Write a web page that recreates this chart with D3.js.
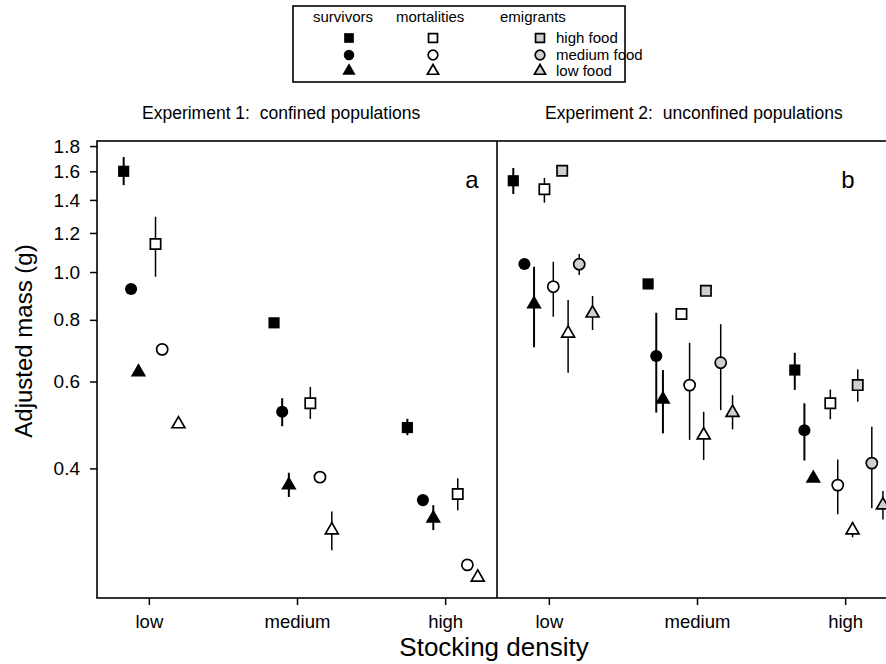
<!DOCTYPE html>
<html>
<head>
<meta charset="utf-8">
<script src="https://cdn.jsdelivr.net/npm/d3@7"></script>
<style>
  body { margin: 0; background: #fff; }
  svg { font-family: "Liberation Sans", Arial, sans-serif; }
  svg text { white-space: pre; }
</style>
</head>
<body>
<div id="myChart"></div>
<script>
// stocking density categories and y tick values
var densities = ["low", "medium", "high"];
var yTicks = [0.4, 0.6, 0.8, 1.0, 1.2, 1.4, 1.6, 1.8];
var groups = ["survivors", "mortalities", "emigrants"];
var foods = ["high", "medium", "low"];

// [density index, offset within group, group, food, mean, upper, lower]
var exp1 = [
  [0, -0.17, "survivors", "high", 1.60, 1.71, 1.50],
  [0, -0.12, "survivors", "medium", 0.924, null, null],
  [0, -0.07, "survivors", "low", 0.627, null, null],
  [0, 0.045, "mortalities", "high", 1.14, 1.294, 0.978],
  [0, 0.09, "mortalities", "medium", 0.697, 0.712, 0.683],
  [0, 0.20, "mortalities", "low", 0.492, null, null],
  [1, -0.155, "survivors", "high", 0.789, 0.807, 0.774],
  [1, -0.10, "survivors", "medium", 0.521, 0.555, 0.487],
  [1, -0.055, "survivors", "low", 0.370, 0.392, 0.350],
  [1, 0.09, "mortalities", "high", 0.542, 0.585, 0.504],
  [1, 0.155, "mortalities", "medium", 0.384, null, null],
  [1, 0.235, "mortalities", "low", 0.300, 0.327, 0.273],
  [2, -0.255, "survivors", "high", 0.484, 0.504, 0.467],
  [2, -0.15, "survivors", "medium", 0.345, 0.352, 0.338],
  [2, -0.08, "survivors", "low", 0.317, 0.337, 0.300],
  [2, 0.085, "mortalities", "high", 0.355, 0.382, 0.329],
  [2, 0.15, "mortalities", "medium", 0.255, null, null],
  [2, 0.22, "mortalities", "low", 0.2406, null, null]
];

var exp2 = [
  [0, -0.24, "survivors", "high", 1.531, 1.625, 1.439],
  [0, -0.165, "survivors", "medium", 1.038, null, null],
  [0, -0.10, "survivors", "low", 0.861, 1.025, 0.704],
  [0, -0.03, "mortalities", "high", 1.471, 1.551, 1.382],
  [0, 0.03, "mortalities", "medium", 0.934, 1.049, 0.812],
  [0, 0.13, "mortalities", "low", 0.751, 0.878, 0.625],
  [0, 0.09, "emigrants", "high", 1.604, null, null],
  [0, 0.205, "emigrants", "medium", 1.037, 1.088, 0.986],
  [0, 0.295, "emigrants", "low", 0.825, 0.894, 0.763],
  [1, -0.33, "survivors", "high", 0.946, null, null],
  [1, -0.275, "survivors", "medium", 0.676, 0.827, 0.519],
  [1, -0.23, "survivors", "low", 0.552, 0.633, 0.471],
  [1, -0.105, "mortalities", "high", 0.822, null, null],
  [1, -0.05, "mortalities", "medium", 0.590, 0.719, 0.457],
  [1, 0.045, "mortalities", "low", 0.467, 0.521, 0.416],
  [1, 0.06, "emigrants", "high", 0.916, null, null],
  [1, 0.16, "emigrants", "medium", 0.655, 0.784, 0.525],
  [1, 0.24, "emigrants", "low", 0.519, 0.563, 0.480],
  [2, -0.34, "survivors", "high", 0.633, 0.686, 0.577],
  [2, -0.275, "survivors", "medium", 0.478, 0.542, 0.415],
  [2, -0.215, "survivors", "low", 0.382, null, null],
  [2, -0.10, "mortalities", "high", 0.542, 0.578, 0.503],
  [2, -0.05, "mortalities", "medium", 0.370, 0.417, 0.323],
  [2, 0.05, "mortalities", "low", 0.300, 0.311, 0.290],
  [2, 0.085, "emigrants", "high", 0.590, 0.635, 0.546],
  [2, 0.18, "emigrants", "medium", 0.410, 0.486, 0.332],
  [2, 0.255, "emigrants", "low", 0.337, 0.360, 0.315]
];

var W = 886, H = 664;
var plotTop = 141, plotBottom = 598, plotLeft = 97, plotMid = 497;

var svg = d3.select("#myChart")
    .append("svg")
    .attr("width", W).attr("height", H);

var y = d3.scaleLog().domain([0.2185, 1.843]).range([plotBottom, plotTop]);

var fillFor = { survivors: "#000", mortalities: "#fff", emigrants: "#cfcfcf" };
var shapeFor = { high: d3.symbolSquare, medium: d3.symbolCircle, low: d3.symbolTriangle };
var sizeFor = { high: 125, medium: 115, low: 85 };

function marker(sel, d, scale) {
  var k = scale || 1;
  var filled = d.group == "survivors";
  var s = sizeFor[d.food] * k;
  if (d.food == "low" && filled) s *= 1.2;
  if (!filled) s *= 0.85;
  sel.append("path")
      .attr("d", d3.symbol().type(shapeFor[d.food]).size(s)())
      .attr("fill", fillFor[d.group])
      .attr("stroke", "#000")
      .attr("stroke-width", filled ? 0 : 1.7);
}

function panel(rows, x0, x1, title, titleX, letter, letterX) {
  var x = d3.scaleLinear().domain([-0.35, 2.35]).range([x0, x1]);
  var g = svg.append("g");

  var pts = rows.map(function(r) {
    return { x: r[0] + r[1], group: r[2], food: r[3], m: r[4], hi: r[5], lo: r[6] };
  });

  // error bars first, markers on top
  g.selectAll("line.err")
      .data(pts.filter(function(d) { return d.hi != null; }))
      .enter().append("line")
      .attr("x1", function(d) { return x(d.x); })
      .attr("x2", function(d) { return x(d.x); })
      .attr("y1", function(d) { return y(d.hi); })
      .attr("y2", function(d) { return y(d.lo); })
      .attr("stroke", "#000")
      .attr("stroke-width", function(d) { return d.group == "survivors" ? 2 : 1.5; });

  g.selectAll("g.pt")
      .data(pts)
      .enter().append("g")
      .attr("transform", function(d) { return "translate(" + x(d.x) + "," + y(d.m) + ")"; })
      .each(function(d) { marker(d3.select(this), d); });

  var ax = svg.append("g")
      .attr("transform", "translate(0," + plotBottom + ")")
      .call(d3.axisBottom(x).tickValues([0, 1, 2]).tickSize(7).tickPadding(10)
        .tickFormat(function(i) { return densities[i]; }));
  ax.select(".domain").remove();
  ax.selectAll("line").attr("stroke-width", 1.5);
  ax.selectAll("text").attr("font-size", 18.5).attr("font-family", "Liberation Sans, Arial, sans-serif").attr("fill", "#000");

  svg.append("text")
      .attr("x", titleX).attr("y", 119)
      .attr("font-size", 17.5)
      .text(title);

  svg.append("text")
      .attr("x", letterX).attr("y", 188)
      .attr("text-anchor", "middle")
      .attr("font-size", 24)
      .text(letter);
}

// frame
svg.append("rect")
    .attr("x", plotLeft).attr("y", plotTop)
    .attr("width", W + 20 - plotLeft).attr("height", plotBottom - plotTop)
    .attr("fill", "none").attr("stroke", "#000").attr("stroke-width", 1.6);
svg.append("line")
    .attr("x1", plotMid).attr("x2", plotMid).attr("y1", plotTop).attr("y2", plotBottom)
    .attr("stroke", "#000").attr("stroke-width", 1.6);

panel(exp1, plotLeft, plotMid, "Experiment 1:  confined populations", 142, "a", 472);
panel(exp2, plotMid, plotMid + 400, "Experiment 2:  unconfined populations", 545, "b", 848);

// y axis
var ay = svg.append("g")
    .attr("transform", "translate(" + plotLeft + ",0)")
    .call(d3.axisLeft(y).tickValues(yTicks).tickSize(7).tickPadding(10)
      .tickFormat(d3.format(".1f")));
ay.select(".domain").remove();
ay.selectAll("line").attr("stroke-width", 1.5);
ay.selectAll("text").attr("font-size", 19).attr("font-family", "Liberation Sans, Arial, sans-serif").attr("fill", "#000");

svg.append("text")
    .attr("transform", "translate(32,341) rotate(-90)")
    .attr("text-anchor", "middle")
    .attr("font-size", 24)
    .text("Adjusted mass (g)");

svg.append("text")
    .attr("x", 494).attr("y", 656)
    .attr("text-anchor", "middle")
    .attr("font-size", 26)
    .text("Stocking density");

// legend
var lg = svg.append("g");
lg.append("rect")
    .attr("x", 293).attr("y", 6).attr("width", 332).attr("height", 76)
    .attr("fill", "#fff").attr("stroke", "#000").attr("stroke-width", 1.6);

var legX = [349, 433, 540];
var headX = [313, 396, 500];
groups.forEach(function(gr, i) {
  lg.append("text")
      .attr("x", headX[i]).attr("y", 22)
      .attr("font-size", 15)
      .text(gr);
});
var rowY = [38, 55, 71];
foods.forEach(function(f, j) {
  groups.forEach(function(gr, i) {
    lg.append("g")
        .attr("transform", "translate(" + legX[i] + "," + rowY[j] + ")")
        .each(function() { marker(d3.select(this), { group: gr, food: f }, 0.75); });
  });
  lg.append("text")
      .attr("x", 556).attr("y", rowY[j] + 5)
      .attr("font-size", 15)
      .text(f + " food");
});
</script>
</body>
</html>
